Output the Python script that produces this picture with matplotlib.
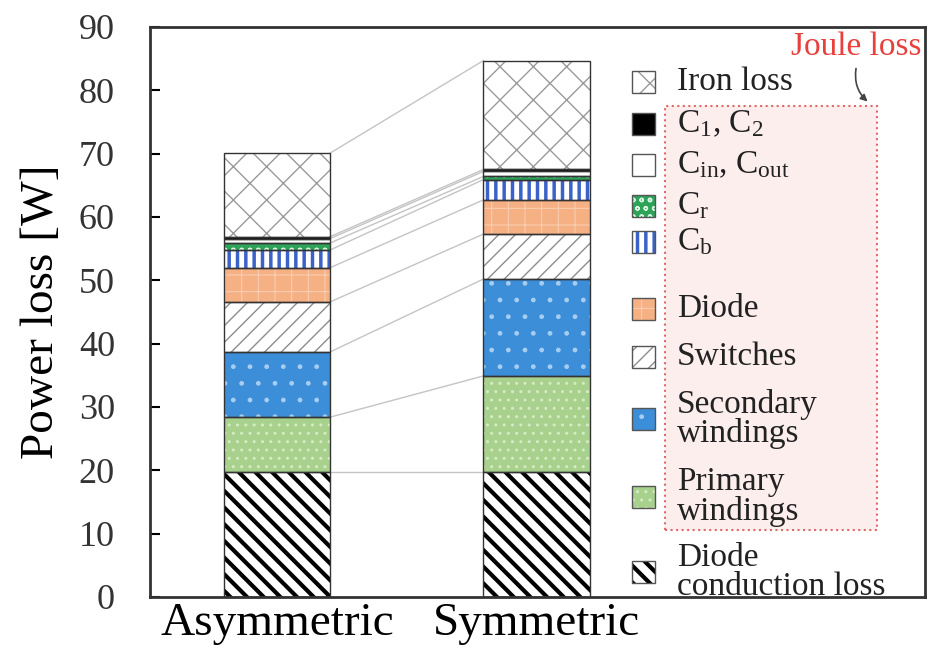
import matplotlib
matplotlib.use("Agg")
import matplotlib.pyplot as plt
from matplotlib.patches import Rectangle
import numpy as np

plt.rcParams['font.family'] = ['Liberation Serif', 'DejaVu Serif']
plt.rcParams['mathtext.fontset'] = 'custom'
plt.rcParams['mathtext.rm'] = 'Liberation Serif'
plt.rcParams['mathtext.it'] = 'Liberation Serif:italic'

# Data (W), stacked bottom -> top
categories = ['Asymmetric', 'Symmetric']
diode_conduction = [19.7, 19.7]
primary_windings = [8.7, 15.2]
secondary_windings = [10.3, 15.3]
switches = [7.9, 7.1]
diode = [5.4, 5.4]
c_b = [2.8, 3.2]
c_r = [1.1, 0.5]
c_in_out = [0.7, 0.8]
c_12 = [0.3, 0.3]
iron_loss = [13.2, 17.2]

series = [diode_conduction, primary_windings, secondary_windings, switches,
          diode, c_b, c_r, c_in_out, c_12, iron_loss]
labels = ['Diode\nconduction loss', 'Primary\nwindings', 'Secondary\nwindings',
          'Switches', 'Diode', r'C$_\mathrm{b}$', r'C$_\mathrm{r}$',
          r'C$_\mathrm{in}$, C$_\mathrm{out}$', r'C$_1$, C$_2$', 'Iron loss']

# style: facecolor, hatch, hatch colour, hatch linewidth
styles = [
    ('white', r'\\', 'black', 3.0),
    ('#a9d18e', '..', '#d4ebc4', 1.0),
    ('#3d8ed8', '.', '#a6cdf2', 1.0),
    ('white', '//', '#8c8c8c', 1.0),
    ('#f5b084', '+', '#f9cdb0', 0.8),
    ('white', '||', '#3a62c8', 2.5),
    ('#2ea35a', 'oo', '#d8f5e0', 1.0),
    ('white', None, None, 1.0),
    ('black', None, None, 1.0),
    ('white', 'x', '#9a9a9a', 1.0),
]

fig = plt.figure(figsize=(9.35, 6.52), dpi=100)
ax = fig.add_axes([0.160, 0.0844, 0.829, 0.8742])

x = np.arange(len(categories))
width = 0.41
bottom = np.zeros(len(categories))
tops = []
for vals, (fc, hatch, hc, hlw) in zip(series, styles):
    vals = np.array(vals)
    bars = ax.bar(x, vals, width, bottom=bottom, color=fc,
                  hatch=hatch, edgecolor=hc if hc else fc, linewidth=0, zorder=2)
    for b in bars:
        if hasattr(b, 'set_hatch_linewidth'):
            b.set_hatch_linewidth(hlw)
    ax.bar(x, vals, width, bottom=bottom, fill=False,
           edgecolor='#333333', linewidth=1.0, zorder=3)
    bottom = bottom + vals
    tops.append(bottom.copy())

# connecting lines between the bars
for t in tops:
    ax.plot([x[0] + width / 2, x[1] - width / 2], [t[0], t[1]],
            color='#c4c4c4', linewidth=1.0, zorder=1)

ax.set_xlim(-0.491, 2.495)
ax.set_ylim(0, 90)
ax.set_yticks(np.arange(0, 91, 10))
ax.set_xticks(x)
ax.set_xticklabels(categories, fontsize=34)
ax.tick_params(axis='x', length=0, pad=4)
ax.tick_params(axis='y', direction='in', length=7, width=1.5,
               labelsize=26, pad=25, labelcolor='#333333')
for s in ax.spines.values():
    s.set_linewidth(2)
    s.set_color('#333333')

ax.set_ylabel('Power loss [W]', fontsize=34)
ax.yaxis.label.set_va('center')
ax.yaxis.set_label_coords(-0.139, 0.5)

# Joule loss box
ax.add_patch(Rectangle((0.665, 0.1175), 0.273, 0.7435, transform=ax.transAxes,
                       facecolor='#fdeeee', edgecolor='#e06868', linestyle=':',
                       linewidth=1.5, zorder=1))
ax.text(0.912, 0.965, 'Joule loss', transform=ax.transAxes, color='#e8403c',
        fontsize=24, ha='center', va='center')
ax.annotate('', xy=(0.929, 0.866), xytext=(0.912, 0.932),
            xycoords='axes fraction',
            arrowprops=dict(arrowstyle='-|>', color='#444444', lw=1.2,
                            mutation_scale=10,
                            connectionstyle='arc3,rad=0.3'))

# legend (top -> bottom)
leg_y_px = [82, 124, 165, 206, 242, 309, 357, 419, 497, 572]
for i, (lab, (fc, hatch, hc, hlw)) in enumerate(zip(labels[::-1], styles[::-1])):
    yc = (597 - leg_y_px[i]) / 570
    r = Rectangle((0.622, yc - 0.019), 0.0297, 0.038, transform=ax.transAxes,
                  facecolor=fc, hatch=hatch, edgecolor=hc if hc else fc,
                  linewidth=0, zorder=4)
    if hasattr(r, 'set_hatch_linewidth'):
        r.set_hatch_linewidth(hlw)
    ax.add_patch(r)
    ax.add_patch(Rectangle((0.622, yc - 0.019), 0.0297, 0.038,
                           transform=ax.transAxes, fill=False,
                           edgecolor='#555555', linewidth=1.0, zorder=5))
    ax.text(0.680, yc, lab, transform=ax.transAxes, fontsize=24,
            ha='left', va='center', linespacing=0.95, color='#222222', zorder=5)

fig.savefig('out.png', dpi=100)
